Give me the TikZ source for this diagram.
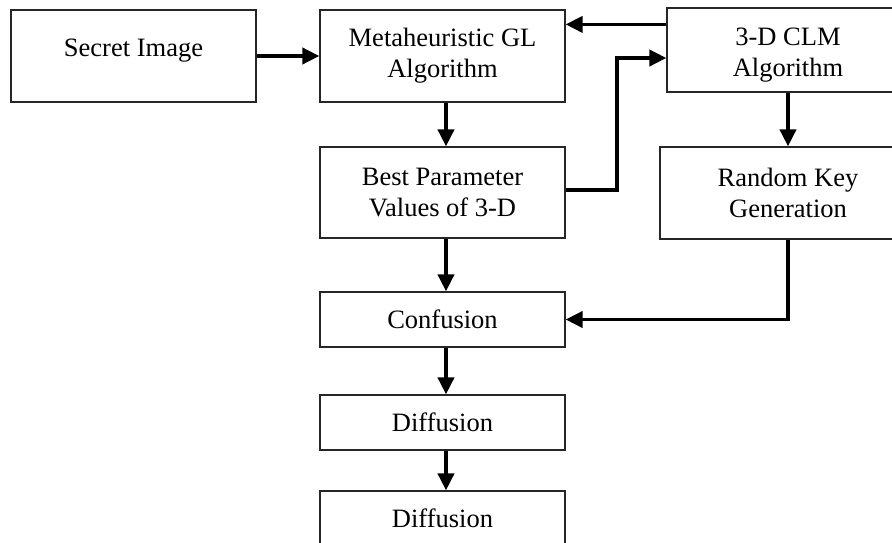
\documentclass[tikz,border=0pt]{standalone}
\usepackage{fontspec}
\setmainfont{Liberation Serif}
\usetikzlibrary{arrows.meta,calc}
\begin{document}
\begin{tikzpicture}[x=1pt,y=-1pt,
  box/.style={draw=black!85,line width=1.2pt,inner sep=0pt,align=center,
    font=\fontsize{26.5}{31}\selectfont},
  arr/.style={line width=3.8pt,-{Triangle[length=17pt,width=16pt]}}]
\useasboundingbox (0,0) rectangle (892,542);
\clip (0,0) rectangle (892,542);
\node[box,minimum width=245pt,minimum height=92pt] (sec) at (133.5,56) {\raisebox{5pt}[\height][\depth]{Secret Image}};
\node[box,minimum width=245pt,minimum height=92pt] (meta) at (442.5,56) {Metaheuristic GL\\Algorithm};
\node[box,minimum width=242pt,minimum height=84pt] (clm) at (788,50) {\raisebox{-5pt}[\height][\depth]{3-D CLM}\\\raisebox{-5pt}[\height][\depth]{Algorithm}};
\node[box,minimum width=245pt,minimum height=91pt] (best) at (442.5,192.5) {Best Parameter\\Values of 3-D};
\node[box,minimum width=256pt,minimum height=92pt] (rnd) at (788,193) {Random Key\\Generation};
\node[box,minimum width=245pt,minimum height=55pt] (conf) at (442.5,319.5) {Confusion};
\node[box,minimum width=245pt,minimum height=55pt] (dif1) at (442.5,422.5) {Diffusion};
\node[box,minimum width=245pt,minimum height=55pt] (dif2) at (442.5,518.5) {Diffusion};
% connectors
\draw[arr] (sec.east) -- (meta.west);
\coordinate (c1) at ([yshift=-17pt]clm.north west);
\draw[arr] (c1) -- (c1 -| meta.east);
\coordinate (k) at (617,58);
\draw[arr] ([yshift=2.5pt]best.east) -| (k) -- (k -| clm.west);
\draw[arr] (clm.south) -- (rnd.north);
\draw[arr] (rnd.south) |- (conf.east);
\draw[arr] ([xshift=3.5pt]meta.south) -- ([xshift=3.5pt]best.north);
\draw[arr] ([xshift=3.5pt]best.south) -- ([xshift=3.5pt]conf.north);
\draw[arr] ([xshift=3.5pt]conf.south) -- ([xshift=3.5pt]dif1.north);
\draw[arr] ([xshift=3.5pt]dif1.south) -- ([xshift=3.5pt]dif2.north);
\end{tikzpicture}
\end{document}
